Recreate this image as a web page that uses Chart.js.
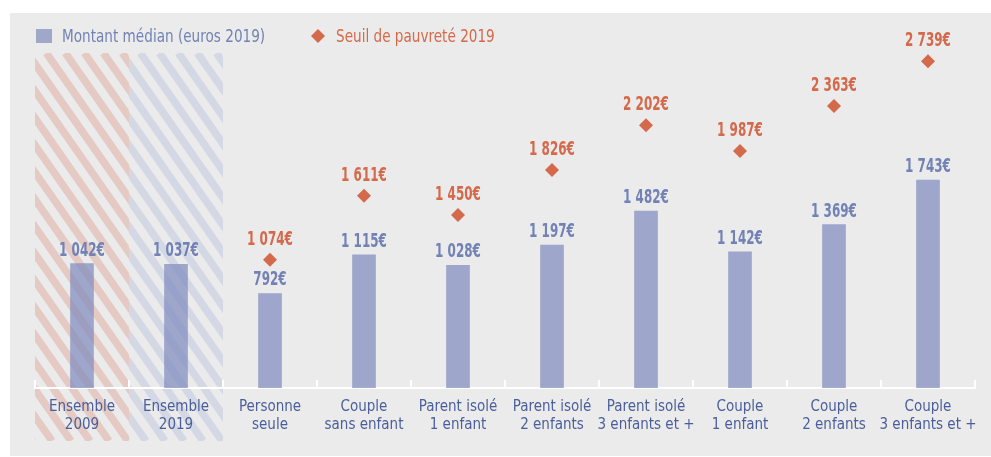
<!DOCTYPE html>
<html>
<head>
<meta charset="utf-8">
<script src="https://cdn.jsdelivr.net/npm/chart.js@4/dist/chart.umd.min.js"></script>
<style>
  html, body { margin: 0; padding: 0; background: #ffffff; }
  #wrap { width: 991px; height: 457px; }
</style>
</head>
<body>
<div id="wrap"><canvas id="c" width="991" height="457"></canvas></div>
<script>
// ---- Data ----
const categories = [
  ['Ensemble', '2009'],
  ['Ensemble', '2019'],
  ['Personne', 'seule'],
  ['Couple', 'sans enfant'],
  ['Parent isolé', '1 enfant'],
  ['Parent isolé', '2 enfants'],
  ['Parent isolé', '3 enfants et +'],
  ['Couple', '1 enfant'],
  ['Couple', '2 enfants'],
  ['Couple', '3 enfants et +']
];
const medianAmount = [1042, 1037, 792, 1115, 1028, 1197, 1482, 1142, 1369, 1743];
const povertyThreshold = [null, null, 1074, 1611, 1450, 1826, 2202, 1987, 2363, 2739];
const seriesNames = ['Montant médian (euros 2019)', 'Seuil de pauvreté 2019'];
const hatchedCategories = [0, 1];

// ---- Styles ----
const NARROW = '"DejaVu Sans Condensed", "Liberation Sans Narrow", sans-serif';
const BAR_COLOR = 'rgba(128,140,190,0.72)';
const BAR_LEGEND = '#9fa8c9';
const BLUE_TEXT = '#7282b5';
const TICK_TEXT = '#4a5e9a';
const ORANGE = '#d4694b';
const PANEL = '#ebebeb';

function fmt(v) {
  const s = String(v);
  return (s.length > 3 ? s.slice(0, s.length - 3) + ' ' + s.slice(-3) : s) + '€';
}

// draw text horizontally condensed by factor sx
function condensedText(ctx, text, x, y, sx, align) {
  ctx.save();
  ctx.translate(x, y);
  ctx.scale(sx, 1);
  ctx.textAlign = align;
  ctx.fillText(text, 0, 0);
  ctx.restore();
}

const decoPlugin = {
  id: 'deco',
  beforeDraw(chart) {
    const ctx = chart.ctx;
    const ca = chart.chartArea;
    const xs = chart.scales.x;
    ctx.save();
    ctx.fillStyle = '#ffffff';
    ctx.fillRect(0, 0, chart.width, chart.height);
    ctx.fillStyle = PANEL;
    ctx.fillRect(10, 13, chart.width - 10, 443);

    // hatched background for the "Ensemble" categories
    const step = (xs.getPixelForValue(1) - xs.getPixelForValue(0));
    const top = ca.top + 23, bottom = ca.bottom + 53;
    const hatchColors = ['rgba(221,170,155,0.5)', 'rgba(190,198,222,0.5)'];
    hatchedCategories.forEach((ci, k) => {
      const cx = xs.getPixelForValue(ci);
      const x0 = cx - step / 2, x1 = cx + step / 2;
      ctx.save();
      ctx.beginPath();
      ctx.rect(x0, top, x1 - x0, bottom - top);
      ctx.clip();
      ctx.strokeStyle = hatchColors[k];
      ctx.lineWidth = 7.5;
      const period = 19;
      const h = bottom - top;
      const dx = h * 0.7;
      for (let x = x0 - dx - 40; x < x1 + 40; x += period) {
        ctx.beginPath();
        ctx.moveTo(x, top);
        ctx.lineTo(x + dx, bottom);
        ctx.stroke();
      }
      ctx.restore();
    });
    ctx.restore();
  },
  afterDraw(chart) {
    const ctx = chart.ctx;
    const ca = chart.chartArea;
    const xs = chart.scales.x;
    const n = categories.length;
    const step = (xs.getPixelForValue(1) - xs.getPixelForValue(0));
    ctx.save();
    // upward tick marks at category boundaries
    ctx.strokeStyle = '#ffffff';
    ctx.lineWidth = 2;
    for (let i = 0; i <= n; i++) {
      const x = Math.round(xs.getPixelForValue(0) - step / 2 + i * step);
      ctx.beginPath();
      ctx.moveTo(x, ca.bottom);
      ctx.lineTo(x, ca.bottom - 8);
      ctx.stroke();
    }

    // legend
    const d0 = chart.data.datasets[0], d1 = chart.data.datasets[1];
    ctx.fillStyle = BAR_LEGEND;
    ctx.fillRect(36, 29, 16, 14);
    ctx.font = '18px ' + NARROW;
    ctx.textBaseline = 'alphabetic';
    ctx.fillStyle = BLUE_TEXT;
    condensedText(ctx, d0.label, 62, 42, 0.84, 'left');
    ctx.fillStyle = ORANGE;
    ctx.beginPath();
    ctx.moveTo(318, 29); ctx.lineTo(325, 36); ctx.lineTo(318, 43); ctx.lineTo(311, 36);
    ctx.closePath(); ctx.fill();
    condensedText(ctx, d1.label, 336, 42, 0.84, 'left');
    ctx.restore();
  },
  afterDatasetsDraw(chart) {
    const ctx = chart.ctx;
    ctx.save();
    ctx.font = 'bold 19px ' + NARROW;
    ctx.textBaseline = 'alphabetic';
    const m0 = chart.getDatasetMeta(0);
    ctx.fillStyle = BLUE_TEXT;
    m0.data.forEach((el, i) => {
      const v = chart.data.datasets[0].data[i];
      if (v == null) return;
      condensedText(ctx, fmt(v), el.x, el.y - 8, 0.7, 'center');
    });
    const m1 = chart.getDatasetMeta(1);
    ctx.fillStyle = ORANGE;
    m1.data.forEach((el, i) => {
      const v = chart.data.datasets[1].data[i];
      if (v == null) return;
      condensedText(ctx, fmt(v), el.x, el.y - 15, 0.7, 'center');
    });
    ctx.restore();
  }
};

new Chart(document.getElementById('c'), {
  type: 'bar',
  data: {
    labels: categories,
    datasets: [
      {
        type: 'bar',
        label: seriesNames[0],
        data: medianAmount,
        backgroundColor: BAR_COLOR,
        barThickness: 23,
        order: 2
      },
      {
        type: 'line',
        label: seriesNames[1],
        data: povertyThreshold,
        showLine: false,
        pointStyle: 'rectRot',
        pointRadius: 7,
        pointHoverRadius: 7,
        pointBackgroundColor: ORANGE,
        pointBorderColor: ORANGE,
        pointBorderWidth: 0,
        order: 1
      }
    ]
  },
  options: {
    responsive: false,
    animation: false,
    devicePixelRatio: 1,
    layout: { padding: { top: 30, left: 35, right: 16, bottom: 0 } },
    plugins: {
      legend: { display: false },
      tooltip: { enabled: false }
    },
    scales: {
      x: {
        offset: true,
        grid: { display: false, drawTicks: false },
        border: { display: true, color: '#ffffff', width: 2 },
        ticks: {
          color: TICK_TEXT,
          padding: 10,
          maxRotation: 0,
          autoSkip: false,
          font: { family: NARROW, size: 15, lineHeight: '18px' }
        },
        afterFit(scale) { scale.height = 69; }
      },
      y: {
        display: false,
        min: 0,
        max: 3000
      }
    }
  },
  plugins: [decoPlugin]
});
</script>
</body>
</html>
